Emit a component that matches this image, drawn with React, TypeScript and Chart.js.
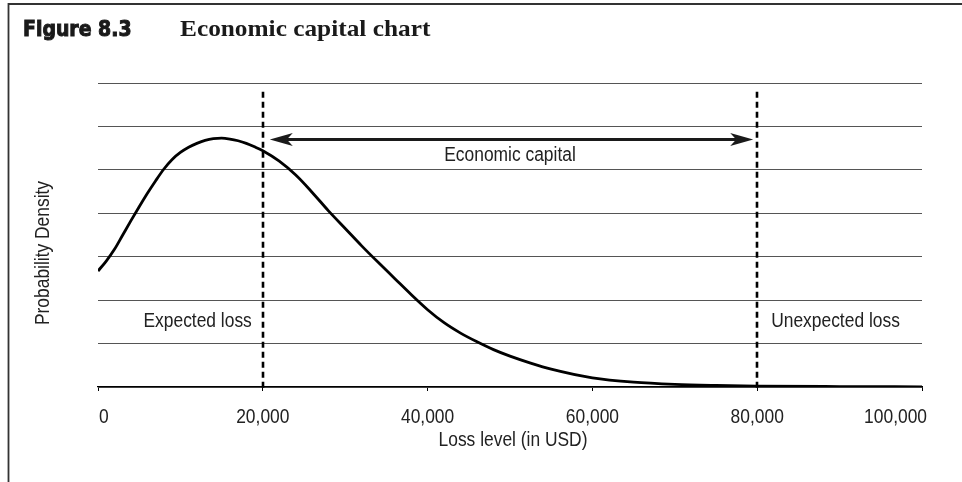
import React, { useEffect, useRef } from "react";
import { Chart, registerables } from "chart.js";
Chart.register(...registerables);

// Loss level (USD) and probability density
const lossLevels = [0, 1000, 2000, 3000, 4000, 5000, 6000, 7000, 8000, 9000, 10000, 11000, 12000, 13000, 14000, 15000, 16000, 17000, 18000, 19000, 20000, 22000, 24000, 26000, 28000, 30000, 32000, 34000, 36000, 38000, 40000, 42000, 44000, 46000, 48000, 50000, 52500, 55000, 60000, 65000, 70000, 75000, 80000, 90000, 100000];
const density = [2.67, 2.9, 3.17, 3.5, 3.83, 4.15, 4.46, 4.75, 5.02, 5.24, 5.4, 5.52, 5.61, 5.68, 5.72, 5.73, 5.71, 5.67, 5.61, 5.53, 5.44, 5.2, 4.88, 4.48, 4.05, 3.65, 3.25, 2.87, 2.5, 2.13, 1.78, 1.48, 1.24, 1.04, 0.86, 0.71, 0.55, 0.41, 0.21, 0.11, 0.06, 0.035, 0.02, 0.01, 0.005];
const xTicks = [0, 20000, 40000, 60000, 80000, 100000];
const markerLines = [20000, 80000];
const markerTop = 6.8;
const arrowLevel = 5.7;
const capitalLabelLevel = 5.32;
const lossLabelLevel = 1.5;
const figureLabel = "Figure 8.3";
const figureTitle = "Economic capital chart";
const xTitle = "Loss level (in USD)";
const yTitle = "Probability Density";
const capitalLabel = "Economic capital";
const expectedLabel = "Expected loss";
const unexpectedLabel = "Unexpected loss";

const SANS = '20px "Liberation Sans", Arial, sans-serif';
const NARROW_SCALE = 0.87;
const TEXT = "#222";

function narrowText(ctx: any, text: string, x: number, y: number, align: CanvasTextAlign, rotate = 0) {
  ctx.save();
  ctx.translate(x, y);
  if (rotate) ctx.rotate(rotate);
  ctx.scale(NARROW_SCALE, 1);
  ctx.font = SANS;
  ctx.fillStyle = TEXT;
  ctx.textAlign = align;
  ctx.textBaseline = "middle";
  ctx.fillText(text, 0, 0);
  ctx.restore();
}

const annotations = {
  id: "annotations",
  beforeDraw(chart: any) {
    const ctx = chart.ctx;
    ctx.save();
    // frame
    ctx.strokeStyle = "#333";
    ctx.lineWidth = 1.8;
    ctx.beginPath();
    ctx.moveTo(962, 4);
    ctx.lineTo(8.5, 4);
    ctx.lineTo(8.5, 482);
    ctx.stroke();
    // heading
    ctx.fillStyle = "#1a1a1a";
    ctx.strokeStyle = "#1a1a1a";
    ctx.textBaseline = "alphabetic";
    ctx.textAlign = "left";
    ctx.save();
    ctx.translate(23, 36);
    ctx.scale(0.9, 1.02);
    ctx.font = 'bold 21px "DejaVu Sans", sans-serif';
    ctx.lineWidth = 1;
    ctx.fillText(figureLabel, 0, 0);
    ctx.strokeText(figureLabel, 0, 0);
    ctx.restore();
    ctx.save();
    ctx.translate(180, 36);
    ctx.scale(1.055, 1);
    ctx.font = 'bold 24px "Liberation Serif", serif';
    ctx.fillText(figureTitle, 0, 0);
    ctx.restore();
    ctx.restore();
  },
  afterDatasetsDraw(chart: any) {
    const ctx = chart.ctx;
    const x = chart.scales.x;
    const y = chart.scales.y;
    const axisY = y.getPixelForValue(0);
    ctx.save();
    // dashed markers
    ctx.strokeStyle = "#000";
    ctx.lineWidth = 2.6;
    ctx.setLineDash([6, 4]);
    markerLines.forEach((v) => {
      const px = Math.round(x.getPixelForValue(v));
      ctx.beginPath();
      ctx.moveTo(px, y.getPixelForValue(markerTop));
      ctx.lineTo(px, axisY + 2);
      ctx.stroke();
    });
    ctx.setLineDash([]);
    // double arrow
    const ay = y.getPixelForValue(arrowLevel);
    const x1 = x.getPixelForValue(markerLines[0]) + 7;
    const x2 = x.getPixelForValue(markerLines[1]) - 4;
    const hl = 23, hw = 6.5;
    ctx.strokeStyle = "#1a1a1a";
    ctx.fillStyle = "#1a1a1a";
    ctx.lineWidth = 3;
    ctx.beginPath();
    ctx.moveTo(x1 + hl - 6, ay);
    ctx.lineTo(x2 - hl + 6, ay);
    ctx.stroke();
    ctx.beginPath();
    ctx.moveTo(x1, ay);
    ctx.lineTo(x1 + hl, ay - hw);
    ctx.lineTo(x1 + hl - 6, ay);
    ctx.lineTo(x1 + hl, ay + hw);
    ctx.closePath();
    ctx.fill();
    ctx.beginPath();
    ctx.moveTo(x2, ay);
    ctx.lineTo(x2 - hl, ay - hw);
    ctx.lineTo(x2 - hl + 6, ay);
    ctx.lineTo(x2 - hl, ay + hw);
    ctx.closePath();
    ctx.fill();
    ctx.restore();
    // labels
    narrowText(ctx, capitalLabel, x.getPixelForValue((markerLines[0] + markerLines[1]) / 2), y.getPixelForValue(capitalLabelLevel), "center");
    narrowText(ctx, expectedLabel, x.getPixelForValue(markerLines[0]) - 11, y.getPixelForValue(lossLabelLevel), "right");
    narrowText(ctx, unexpectedLabel, x.getPixelForValue(markerLines[1]) + 14, y.getPixelForValue(lossLabelLevel), "left");
    // x tick labels
    xTicks.forEach((v, i) => {
      const px = x.getPixelForValue(v);
      const label = v.toLocaleString("en-US");
      if (i === 0) narrowText(ctx, label, px + 1, axisY + 30, "left");
      else if (i === xTicks.length - 1) narrowText(ctx, label, px + 5, axisY + 30, "right");
      else narrowText(ctx, label, px, axisY + 30, "center");
    });
    // axis titles
    narrowText(ctx, xTitle, (chart.chartArea.left + chart.chartArea.right) / 2 + 3, axisY + 53, "center");
    narrowText(ctx, yTitle, 43, 253, "center", -Math.PI / 2);
  },
};

export default function App() {
  const ref = useRef<HTMLCanvasElement>(null);
  useEffect(() => {
    const chart = new Chart(ref.current!, {
      type: "line",
      data: {
        datasets: [
          {
            data: lossLevels.map((v, i) => ({ x: v, y: density[i] })),
            borderColor: "#000",
            borderWidth: 2.8,
            pointRadius: 0,
            cubicInterpolationMode: "monotone",
            fill: false,
          },
        ],
      },
      options: {
        animation: false,
        responsive: false,
        events: [],
        layout: { padding: { left: 98, top: 83, right: 40, bottom: 0 } },
        plugins: { legend: { display: false }, tooltip: { enabled: false }, title: { display: false } },
        scales: {
          x: {
            type: "linear",
            min: 0,
            max: 100000,
            afterBuildTicks: (s: any) => {
              s.ticks = xTicks.map((v) => ({ value: v }));
            },
            afterFit: (s: any) => {
              s.height = 95;
            },
            grid: { drawOnChartArea: false, drawTicks: true, tickLength: 4, color: "#000", lineWidth: 1 },
            border: { display: true, color: "#000", width: 1.2 },
            ticks: { display: false },
            title: { display: false },
          },
          y: {
            min: 0,
            max: 7,
            ticks: { display: false, stepSize: 1 },
            grid: { color: "#555", lineWidth: 1, drawTicks: false },
            border: { display: false },
          },
        },
      },
      plugins: [annotations],
    });
    return () => chart.destroy();
  }, []);
  return (
    <div style={{ position: "absolute", left: 0, top: 0, width: 962, height: 482, background: "#fff" }}>
      <canvas ref={ref} width={962} height={482} style={{ display: "block" }} />
    </div>
  );
}
